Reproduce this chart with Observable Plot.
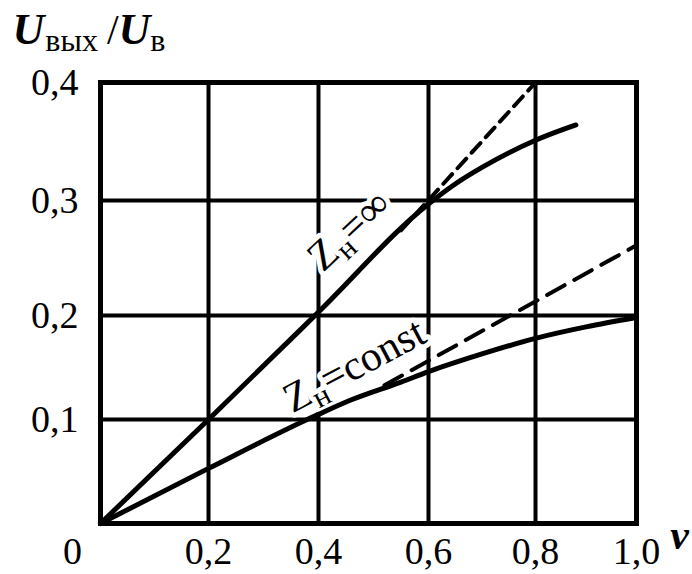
<!DOCTYPE html>
<html><head><meta charset="utf-8">
<script src="https://cdn.jsdelivr.net/npm/d3@7"></script>
<script src="https://cdn.jsdelivr.net/npm/@observablehq/plot@0.6"></script>
<style>body{margin:0;background:#fff} svg{display:block}</style>
</head><body><div id="chart"></div>
<script>
// ---- data ----
const xTicks = [0.2, 0.4, 0.6, 0.8, 1.0];
const xTickLabels = ["0,2", "0,4", "0,6", "0,8", "1,0"];
const yTicks = [0.1, 0.2, 0.3, 0.4];
const yTickLabels = ["0,1", "0,2", "0,3", "0,4"];
const gridX = [0.2, 0.4, 0.6, 0.8];
const gridY = [0.1, 0.2, 0.3];

// Z_н = ∞ (solid, measured)
const infNu = [0, 0.2, 0.4, 0.6, 0.65, 0.7, 0.8, 0.88];
const infU  = [0, 0.1, 0.203, 0.297, 0.314, 0.328, 0.351, 0.364];
// Z_н = ∞ (dashed, linear continuation)
const infDashNu = [0.55, 0.8];
const infDashU  = [0.274, 0.4];

// Z_н = const (solid)
const constNu = [0, 0.2, 0.4, 0.46, 0.55, 0.6, 0.7, 0.8, 0.9, 1.0];
const constU  = [0, 0.053, 0.105, 0.119, 0.136, 0.146, 0.163, 0.178, 0.189, 0.198];
// Z_н = const (dashed, linear continuation)
const constDashNu = [0.52, 1.0];
const constDashU  = [0.133, 0.261];

// annotation anchors (data coordinates)
const labelInf = {nu: 0.455, u: 0.274, angle: -43};
const labelConst = {nu: 0.465, u: 0.152, angle: -28};

const toRows = (xs, ys) => xs.map((x, i) => ({x, y: ys[i]}));
const inf = toRows(infNu, infU);
const infDash = toRows(infDashNu, infDashU);
const cst = toRows(constNu, constU);
const cstDash = toRows(constDashNu, constDashU);

// the printed grid is slightly uneven; mimic it with a piecewise scale transform
const xWarp = d3.scaleLinear().domain([0, 0.2, 0.4, 0.6, 0.8, 1.0]).range([0, 0.2015, 0.4067, 0.6119, 0.8116, 1.0]);
const yWarp = d3.scaleLinear().domain([0, 0.1, 0.2, 0.3, 0.4]).range([0, 0.0943, 0.1887, 0.2930, 0.4]);

const serif = "Liberation Serif, Times New Roman, serif";

const plot = Plot.plot({
  width: 692, height: 574,
  marginLeft: 100, marginRight: 56, marginTop: 82, marginBottom: 51,
  x: {domain: [0, 1], transform: xWarp, axis: null},
  y: {domain: [0, 0.4], transform: yWarp, axis: null},
  style: {fontFamily: serif, background: "white", color: "black", overflow: "visible"},
  marks: [
    Plot.ruleX(gridX, {x: d => d, y1: 0, y2: 0.4, stroke: "black", strokeWidth: 4}),
    Plot.ruleY(gridY, {y: d => d, x1: 0, x2: 1, stroke: "black", strokeWidth: 4}),
    Plot.frame({stroke: "black", strokeWidth: 5}),
    // curve labels with white halo (gaps in the grid)
    Plot.text([labelInf], {x: "nu", y: "u", rotate: d => d.angle, text: () => "Zн=∞",
      fontSize: 42, fill: "black", stroke: "white", strokeWidth: 10, paintOrder: "stroke"}),
    Plot.text([labelConst], {x: "nu", y: "u", rotate: d => d.angle, text: () => "Zн=const",
      fontSize: 42, fill: "black", stroke: "white", strokeWidth: 10, paintOrder: "stroke"}),
    // curves
    Plot.line(infDash, {x: "x", y: "y", stroke: "black", strokeWidth: 4, strokeDasharray: "13,8"}),
    Plot.line(cstDash, {x: "x", y: "y", stroke: "black", strokeWidth: 4, strokeDasharray: "20,11"}),
    Plot.line(inf, {x: "x", y: "y", stroke: "black", strokeWidth: 5, curve: "monotone-x"}),
    Plot.line(cst, {x: "x", y: "y", stroke: "black", strokeWidth: 5, curve: "monotone-x"}),
    // tick labels
    Plot.text(yTicks, {x: 0, y: d => d, text: (d, i) => yTickLabels[i], textAnchor: "end",
      dx: -22, fontSize: 38, fill: "black"}),
    Plot.text(xTicks, {x: d => d, y: 0, text: (d, i) => xTickLabels[i], dy: 28,
      fontSize: 38, fill: "black"}),
    Plot.text(["0"], {x: 0, y: 0, text: d => d, dx: -28, dy: 28, fontSize: 38, fill: "black"}),
    Plot.text(["ν"], {x: 1, y: 0, text: d => d, dx: 43, dy: 12, fontSize: 42,
      fontStyle: "italic", fontWeight: "bold", fill: "black"}),
    // axis title
    Plot.text(["U"], {x: 0, y: 0.4, text: d => d, textAnchor: "start", lineAnchor: "bottom",
      dx: -88, dy: -39, fontSize: 44, fill: "black"})
  ]
});

function rich(svg, content, parts) {
  d3.select(svg).selectAll("text").filter(function () { return this.textContent === content; })
    .each(function () {
      const t = d3.select(this);
      t.text(null);
      let shift = 0;
      for (const p of parts) {
        const ts = t.append("tspan").text(p.t);
        const target = p.sub || 0;
        if (target !== shift) { ts.attr("dy", target - shift); shift = target; }
        if (p.size) ts.attr("font-size", p.size);
        if (p.italic) ts.attr("font-style", "italic");
        if (p.weight) ts.attr("font-weight", p.weight);
        if (p.dx) ts.attr("dx", p.dx);
      }
    });
}

rich(plot, "Zн=∞", [
  {t: "Z", size: 42}, {t: "н", sub: 8, size: 30}, {t: "=∞", size: 42}
]);
rich(plot, "Zн=const", [
  {t: "Z", size: 42}, {t: "н", sub: 8, size: 30}, {t: "=const", size: 42}
]);
rich(plot, "U", [
  {t: "U", italic: true, weight: "bold", size: 44},
  {t: "вых", sub: 7, size: 32, dx: 1},
  {t: "/", size: 42, dx: 9},
  {t: "U", italic: true, weight: "bold", size: 44},
  {t: "в", sub: 7, size: 32, dx: 0}
]);

document.getElementById("chart").appendChild(plot);
</script>
</body></html>
